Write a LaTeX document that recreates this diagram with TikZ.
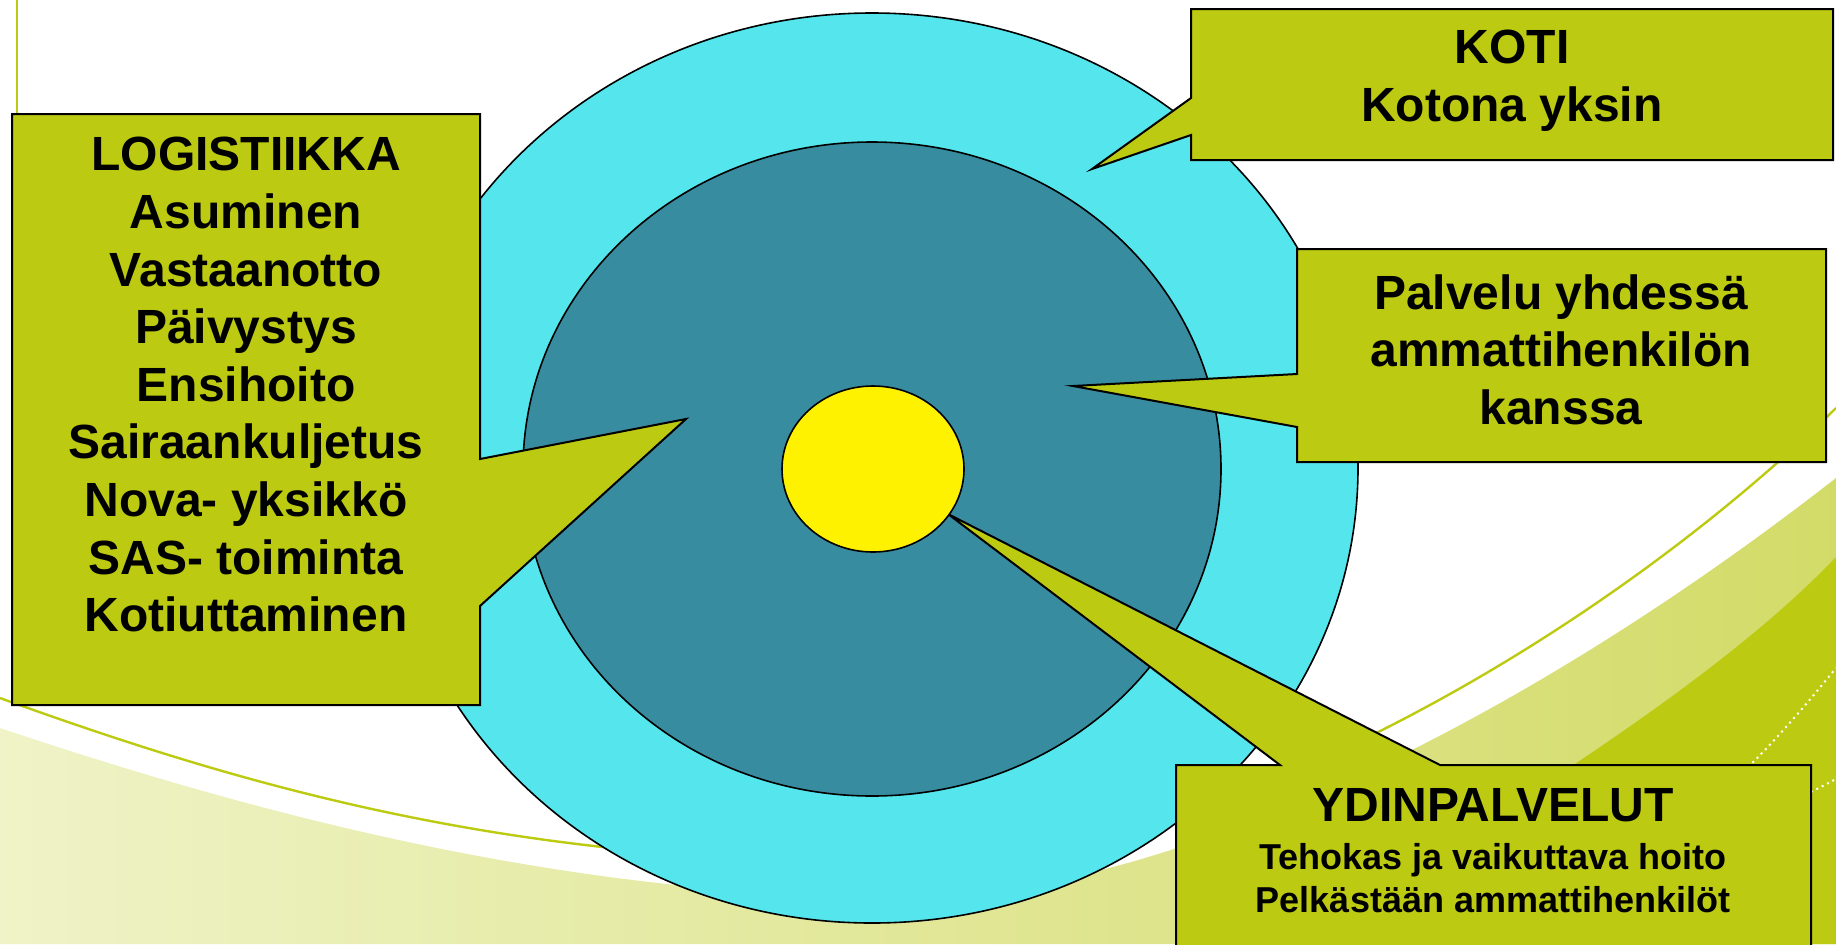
\documentclass[tikz,border=0pt]{standalone}
\usepackage{fontspec}
\setmainfont{Liberation Sans}
\definecolor{cyanring}{RGB}{85,230,237}
\definecolor{tealdisc}{RGB}{56,140,160}
\definecolor{olivebox}{RGB}{189,202,18}
\definecolor{paleswoosh}{RGB}{239,243,199}
\definecolor{lightswoosh}{RGB}{211,219,104}
\begin{document}
\begin{tikzpicture}[x=0.5pt,y=-0.5pt,
  balloon/.style={draw=black,fill=olivebox,line width=1pt,line join=miter},
  ring/.style={draw=black,line width=0.8pt},
  boxtext/.style={font=\bfseries\fontsize{24}{28.8}\selectfont,align=center,anchor=north,inner sep=0pt}]
  % Tausta: vaalea kaari, tumma kulma, ohut viiva | renkaat | puhekuplat | keskusta
  \clip (0,0) rectangle (1836,944);
  \shade[left color=paleswoosh,right color=lightswoosh] (0,728) .. controls (260,815) and (560,895) .. (900,898)
    .. controls (1150,898) and (1500,740) .. (1836,478) -- (1836,944) -- (0,944) -- cycle;
  \fill[olivebox] (1300,944) .. controls (1450,840) and (1700,700) .. (1836,557) -- (1836,944) -- cycle;
  \draw[olivebox,line width=1.2pt] (17,0) -- (17,300);
  \draw[olivebox,line width=1.2pt] (0,698) .. controls (260,792) and (520,864) .. (900,862)
    .. controls (1200,870) and (1600,640) .. (1836,408);
  \draw[white,dotted,line width=1pt] (1700,812) .. controls (1760,760) and (1800,712) .. (1836,668);
  \draw[white,dotted,line width=1pt] (1811,792) -- (1836,779);
  \draw[ring,fill=cyanring] (872,468) ellipse [x radius=486,y radius=455];
  \draw[ring,fill=tealdisc] (872,469) ellipse [x radius=349,y radius=327];
  \draw[balloon] (12,114) -- (480,114) -- (480,459) -- (686,419) -- (480,606) -- (480,705) -- (12,705) -- cycle;
  \draw[balloon] (1191,9) -- (1833,9) -- (1833,160) -- (1191,160) -- (1191,135) -- (1092,169) -- (1191,98) -- cycle;
  \draw[balloon] (1297,249) -- (1826,249) -- (1826,462) -- (1297,462) -- (1297,427) -- (1073,386) -- (1297,374) -- cycle;
  \draw[balloon] (1176,765) -- (1280,765) -- (948,514) -- (1440,765) -- (1811,765) -- (1811,960) -- (1176,960) -- cycle;
  \draw[ring,fill=yellow] (873,469) ellipse [x radius=91,y radius=83];
  \node[boxtext] (logistiikka) at (246,137) {LOGISTIIKKA\\Asuminen\\Vastaanotto\\Päivystys\\Ensihoito\\Sairaankuljetus\\Nova- yksikkö\\SAS- toiminta\\Kotiuttaminen};
  \node[boxtext] (koti) at (1512,30) {KOTI\\Kotona yksin};
  \node[boxtext] (palvelu) at (1561,274) {Palvelu yhdessä\\ammattihenkilön\\kanssa};
  \node[boxtext,font=\bfseries\fontsize{18}{21.6}\selectfont] (ydin) at (1493,788) {{\fontsize{24}{28.8}\selectfont YDINPALVELUT}\\[2.4pt]Tehokas ja vaikuttava hoito\\Pelkästään ammattihenkilöt};
\end{tikzpicture}
\end{document}
